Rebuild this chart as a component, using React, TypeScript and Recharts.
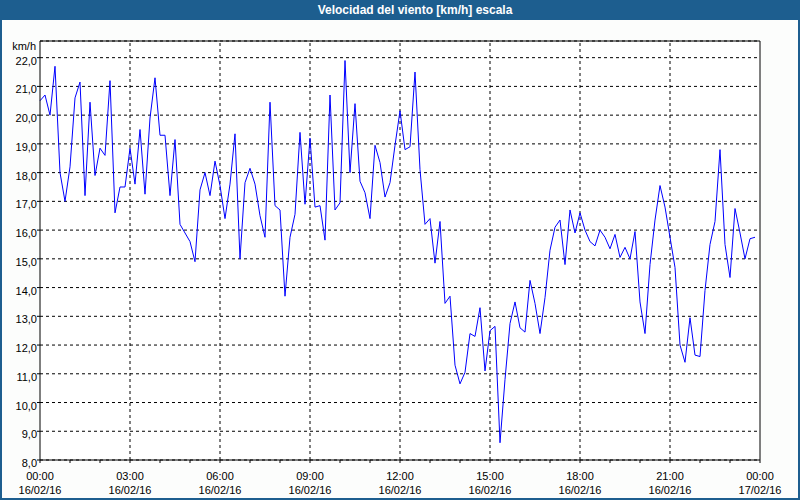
import React from 'react';
import { LineChart, Line, XAxis, YAxis, CartesianGrid, ReferenceLine } from 'recharts';

// one reading every 10 minutes, 16/02/16 00:00 -> 23:50
const STEP_MIN = 10;
const speeds = [
  20.5, 20.7, 20.0, 21.7, 18.0, 17.0, 18.2, 20.6, 21.15, 17.2,
  20.45, 17.9, 18.85, 18.6, 21.2, 16.6, 17.5, 17.5, 18.85, 17.6,
  19.5, 17.25, 19.9, 21.3, 19.3, 19.3, 17.2, 19.15, 16.2, 15.9,
  15.6, 14.9, 17.4, 18.0, 17.2, 18.4, 17.55, 16.4, 17.6, 19.35,
  15.0, 17.65, 18.15, 17.6, 16.5, 15.75, 20.45, 16.85, 16.7, 13.7,
  15.75, 16.55, 19.4, 16.9, 19.2, 16.8, 16.85, 15.65, 20.7, 16.7,
  16.95, 21.9, 18.0, 20.4, 17.7, 17.3, 16.4, 18.95, 18.35, 17.15,
  17.65, 18.95, 20.15, 18.8, 18.9, 21.5, 18.1, 16.2, 16.4, 14.85,
  16.3, 13.45, 13.7, 11.3, 10.65, 11.05, 12.4, 12.3, 13.3, 11.1,
  12.5, 12.65, 8.6, 10.8, 12.75, 13.5, 12.6, 12.45, 14.25, 13.45,
  12.4, 13.65, 15.3, 16.1, 16.35, 14.8, 16.7, 15.9, 16.6, 16.0,
  15.6, 15.45, 16.0, 15.75, 15.35, 15.85, 15.05, 15.4, 15.0, 15.95,
  13.5, 12.4, 14.8, 16.35, 17.55, 16.8, 15.75, 14.7, 12.0, 11.4,
  12.95, 11.65, 11.6, 13.9, 15.5, 16.3, 18.8, 15.5, 14.35, 16.75,
  15.9, 15.0, 15.7, 15.75,
];

const hourTicks = [0, 60, 120, 180, 240, 300, 360, 420, 480, 540, 600, 660, 720, 780, 840, 900, 960, 1020, 1080, 1140, 1200, 1260, 1320, 1380, 1440];
const labelTicks = [0, 180, 360, 540, 720, 900, 1080, 1260, 1440];
const timeLabels = ['00:00', '03:00', '06:00', '09:00', '12:00', '15:00', '18:00', '21:00', '00:00'];
const dateLabels = ['16/02/16', '16/02/16', '16/02/16', '16/02/16', '16/02/16', '16/02/16', '16/02/16', '16/02/16', '17/02/16'];
const gridTimes = [180, 360, 540, 720, 900, 1080, 1260];
const yTicks = [8, 9, 10, 11, 12, 13, 14, 15, 16, 17, 18, 19, 20, 21, 22];
const Y_MIN = 8;
const Y_MAX = 22.58;
const X_MAX = 1440;

const data = speeds.map((v, i) => ({ t: i * STEP_MIN, v }));

const FONT = '"Liberation Sans", Arial, sans-serif';
const FRAME = '#1d5e8f';

const TimeTick = (props: any) => {
  const { x, y, payload } = props;
  const k = labelTicks.indexOf(payload.value);
  if (k < 0) return <g />;
  return (
    <g>
      <text x={x} y={y + 14.5} textAnchor="middle" fontSize={11} fontFamily={FONT} fill="#000">
        {timeLabels[k]}
      </text>
      <text x={x} y={y + 29} textAnchor="middle" fontSize={11} fontFamily={FONT} fill="#000">
        {dateLabels[k]}
      </text>
    </g>
  );
};

const SpeedTick = (props: any) => {
  const { x, y, payload } = props;
  return (
    <text x={x} y={y + 7} textAnchor="end" fontSize={11} fontFamily={FONT} fill="#000">
      {payload.value.toFixed(1).replace('.', ',')}
    </text>
  );
};

export default function App() {
  return (
    <div style={{ position: 'absolute', left: 0, top: 0, width: 800, height: 500, background: '#fcfdfc', overflow: 'hidden' }}>
      <LineChart
        width={800}
        height={500}
        data={data}
        margin={{ top: 41, right: 40, bottom: 0, left: 0 }}
        style={{ position: 'absolute', left: 0, top: 0 }}
      >
        <CartesianGrid vertical={false} stroke="#000" strokeDasharray="3 3" fill="#fff" />
        <XAxis
          dataKey="t"
          type="number"
          domain={[0, X_MAX]}
          ticks={hourTicks}
          interval={0}
          height={40}
          stroke="#000"
          tickSize={3}
          tickMargin={2}
          tick={<TimeTick />}
        />
        <YAxis
          type="number"
          domain={[Y_MIN, Y_MAX]}
          ticks={yTicks}
          interval={0}
          width={40}
          stroke="#000"
          tickSize={3}
          tickMargin={0}
          tick={<SpeedTick />}
          label={{
            content: () => (
              <text x={36} y={49.5} textAnchor="end" fontSize={11} fontFamily={FONT} fill="#000">
                km/h
              </text>
            ),
          }}
        />
        {gridTimes.map((t) => (
          <ReferenceLine key={t} x={t} stroke="#000" strokeDasharray="3 3" />
        ))}
        <ReferenceLine y={Y_MAX} stroke="#000" />
        <ReferenceLine x={X_MAX} stroke="#000" />
        <Line
          type="linear"
          dataKey="v"
          stroke="#0000ff"
          strokeWidth={1}
          dot={false}
          activeDot={false}
          isAnimationActive={false}
        />
      </LineChart>
      <div
        style={{
          position: 'absolute',
          left: 0,
          top: 0,
          width: 800,
          height: 20,
          background: FRAME,
          color: '#fff',
          fontFamily: FONT,
          fontWeight: 'bold',
          fontSize: 12,
          lineHeight: '20px',
          textAlign: 'center',
          paddingLeft: 30,
          boxSizing: 'border-box',
        }}
      >
        Velocidad del viento [km/h] escala
      </div>
      <div
        style={{
          position: 'absolute',
          left: 0,
          top: 0,
          width: 800,
          height: 500,
          borderLeft: `2px solid ${FRAME}`,
          borderRight: `2px solid ${FRAME}`,
          borderBottom: `2px solid ${FRAME}`,
          boxSizing: 'border-box',
          pointerEvents: 'none',
        }}
      />
    </div>
  );
}
